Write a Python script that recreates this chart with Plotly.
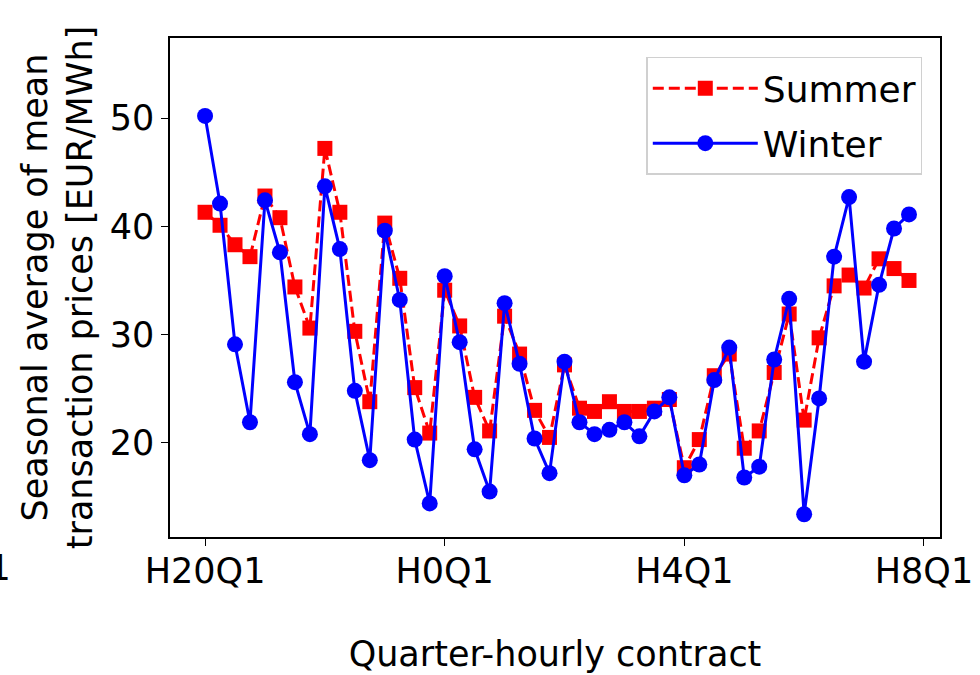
import plotly.graph_objects as go

# Quarter-hour contract index, starting at H20Q1 (0) through H7Q4 (47)
contract_idx = list(range(48))

summer = [41.3, 40.1, 38.3, 37.2, 42.8, 40.8, 34.4, 30.6,
          47.2, 41.3, 30.3, 23.8, 40.3, 35.2, 25.1, 20.9,
          34.1, 30.8, 24.2, 21.1, 31.7, 28.2, 23.0, 20.5,
          27.2, 23.2, 22.9, 23.8, 22.9, 22.9, 23.2, 24.0,
          17.7, 20.3, 26.2, 28.2, 19.5, 21.1, 26.5, 31.9,
          22.1, 29.7, 34.5, 35.5, 34.3, 37.0, 36.1, 35.0]

winter = [50.2, 42.1, 29.1, 21.9, 42.4, 37.6, 25.6, 20.8,
          43.7, 37.9, 24.8, 18.4, 39.6, 33.2, 20.3, 14.4,
          35.4, 29.3, 19.4, 15.5, 32.9, 27.3, 20.4, 17.2,
          27.5, 21.9, 20.8, 21.2, 21.9, 20.6, 22.9, 24.2,
          17.0, 18.0, 25.8, 28.8, 16.8, 17.8, 27.7, 33.3,
          13.4, 24.1, 37.2, 42.7, 27.5, 34.6, 39.8, 41.1]

tick_vals = [0, 16, 32, 48]
tick_text = ["H20Q1", "H0Q1", "H4Q1", "H8Q1"]
y_ticks = [20, 30, 40, 50]

x_range = [-2.34, 49.07]
y_range = [11.3, 57.4]

FONT = "DejaVu Sans"
FS = 35

fig = go.Figure()
fig.add_trace(go.Scatter(
    x=contract_idx, y=summer, name="Summer", mode="lines+markers",
    legendgroup="summer",
    line=dict(color="#ff0000", width=3, dash="11px,5px"),
    marker=dict(symbol="square", size=15, color="#ff0000"),
))
fig.add_trace(go.Scatter(
    x=contract_idx, y=winter, name="Winter", mode="lines+markers",
    legendgroup="winter",
    line=dict(color="#0000ff", width=3),
    marker=dict(symbol="circle", size=16, color="#0000ff"),
))

# Plot-area geometry (pixels)
W, H = 980, 675
m_l, m_r, m_t, m_b = 170, 40, 38, 138
plot_w = W - m_l - m_r

fig.update_layout(
    width=W, height=H,
    margin=dict(l=m_l, r=m_r, t=m_t, b=m_b),
    paper_bgcolor="white", plot_bgcolor="white",
    font=dict(family=FONT, size=FS, color="black"),
    showlegend=True,
    legend=dict(
        x=0.977, y=0.962, xanchor="right", yanchor="top",
        bgcolor="white", bordercolor="#d0d0d0", borderwidth=1.5,
        font=dict(family=FONT, size=36),
        itemwidth=105, tracegroupgap=5, traceorder="grouped",
    ),
    xaxis=dict(
        range=x_range, tickvals=tick_vals, ticktext=tick_text,
        showgrid=False, zeroline=False,
        showline=True, mirror=True, linecolor="black", linewidth=1.5,
        ticks="outside", ticklen=7, tickwidth=1.3, tickcolor="black",
        tickfont=dict(family=FONT, size=FS), ticklabelstandoff=-5,
        title=dict(text="Quarter-hourly contract", font=dict(family=FONT, size=FS), standoff=52),
        automargin=False,
    ),
    yaxis=dict(
        range=y_range, tickvals=y_ticks,
        showgrid=False, zeroline=False,
        showline=True, mirror=True, linecolor="black", linewidth=1.5,
        ticks="outside", ticklen=7, tickwidth=1.3, tickcolor="black",
        tickfont=dict(family=FONT, size=FS),
        title=dict(text="Seasonal average of mean<br>transaction prices [EUR/MWh]",
                   font=dict(family=FONT, size=FS), standoff=6),
        automargin=False,
    ),
)

# Partially visible tick label to the left of the axes
fig.add_annotation(
    text="H16Q1", xref="paper", yref="paper",
    x=(13 - m_l) / plot_w, y=0, xanchor="right", yanchor="top",
    yshift=-9, showarrow=False, font=dict(family=FONT, size=FS),
)

fig.write_html("out.html")
